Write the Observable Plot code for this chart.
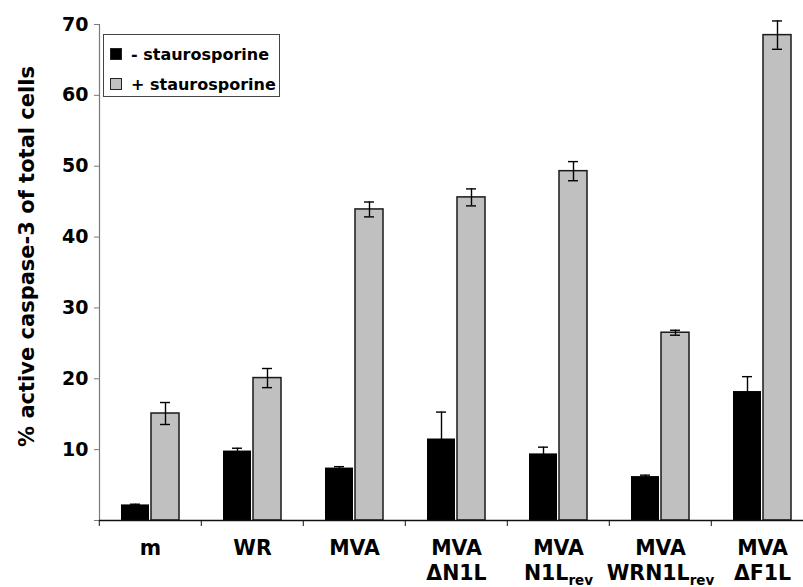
<!DOCTYPE html>
<html>
<head>
<meta charset="utf-8">
<script src="https://cdn.jsdelivr.net/npm/d3@7"></script>
<script src="https://cdn.jsdelivr.net/npm/@observablehq/plot@0.6"></script>
<style>
  html, body { margin: 0; padding: 0; background: #fff; overflow: hidden; }
  #wrap { position: relative; width: 803px; height: 587px; overflow: hidden; }
  #wrap svg { max-width: none !important; }
  #legend {
    position: absolute; left: 103px; top: 34px; width: 177px; height: 63px;
    box-sizing: border-box; border: 1px solid #444; background: #fff;
    padding-top: 4px; font-family: "DejaVu Sans", sans-serif; font-weight: bold; font-size: 16px;
  }
  #legend .row { display: flex; align-items: center; height: 30px; padding-left: 6px; }
  #legend .sw { width: 10px; height: 10px; border: 1px solid #222; margin-right: 9px; flex: none; }
</style>
</head>
<body>
<div id="wrap"><div id="legend"></div></div>
<script>
const categories = ["m", "WR", "MVA", "MVA\nΔN1L", "MVA\nN1L_rev", "MVA\nWRN1L_rev", "MVA\nΔF1L"];
const series = ["- staurosporine", "+ staurosporine"];
const seriesColors = ["#000000", "#c0c0c0"];
const minusValues = [2.2, 9.8, 7.4, 11.5, 9.4, 6.2, 18.2];
const minusErrors = [0.1, 0.4, 0.2, 3.8, 0.95, 0.2, 2.1];
const plusValues = [15.1, 20.1, 43.9, 45.6, 49.3, 26.5, 68.5];
const plusErrors = [1.55, 1.35, 1.05, 1.2, 1.35, 0.35, 2.0];
const yTicks = [0, 10, 20, 30, 40, 50, 60, 70];
const yLabel = "% active caspase-3 of total cells";

const rows = categories.flatMap((c, i) => [
  {cat: c, s: series[0], v: minusValues[i], e: minusErrors[i]},
  {cat: c, s: series[1], v: plusValues[i], e: plusErrors[i]}
]);

const W = 814, H = 587, ML = 97, MR = 0, MT = 24, MB = 67;
const step = (W - ML - MR) / categories.length;

const plot = Plot.plot({
  width: W, height: H,
  marginTop: MT, marginBottom: MB, marginLeft: ML, marginRight: MR,
  style: {fontFamily: "'DejaVu Sans', sans-serif", fontWeight: "bold", background: "#fff", color: "#000", maxWidth: "none"},
  fx: {domain: categories, padding: 0},
  x: {domain: series, paddingInner: 0.065, paddingOuter: 0.69, axis: null},
  y: {domain: [0, 70], range: [H - MB, MT]},
  marks: [
    Plot.frame({anchor: "left", stroke: "#7a7a7a", strokeWidth: 1.2, facet: "super"}),
    Plot.axisY({
      ticks: yTicks, tickFormat: d => d === 0 ? "" : d,
      tickSize: 5, tickPadding: 6, fontSize: 19, stroke: "#7a7a7a", fill: "#000",
      label: yLabel, labelAnchor: "center", labelOffset: 80, labelArrow: "none"
    }),
    Plot.barY(rows, {filter: d => d.s === series[0], fx: "cat", x: "s", y: "v", fill: seriesColors[0]}),
    Plot.barY(rows, {filter: d => d.s === series[1], fx: "cat", x: "s", y: "v", fill: seriesColors[1], stroke: "#1a1a1a", strokeWidth: 1.5}),
    Plot.ruleX(rows, {fx: "cat", x: "s", y1: d => d.v - d.e, y2: d => d.v + d.e, stroke: "#000", strokeWidth: 1.4}),
    Plot.tickY(rows, {fx: "cat", x: "s", y: d => d.v + d.e, stroke: "#000", strokeWidth: 1.4, insetLeft: 9, insetRight: 9}),
    Plot.tickY(rows, {fx: "cat", x: "s", y: d => d.v - d.e, stroke: "#000", strokeWidth: 1.4, insetLeft: 9, insetRight: 9}),
    Plot.ruleY([0], {stroke: "#111", strokeWidth: 1.3}),
    Plot.axisFx({anchor: "bottom", tickSize: 6, dx: -step / 2, tickFormat: () => "", label: null, stroke: "#111"}),
    Plot.axisFx({anchor: "bottom", tickSize: 0, tickPadding: 17, fontSize: 20.5, lineHeight: 1.2, label: null})
  ]
});
plot.style.maxWidth = "none";

// subscripts for "_rev"
plot.querySelectorAll("tspan").forEach(t => {
  const txt = t.textContent;
  if (txt.includes("_")) {
    const [a, b] = txt.split("_");
    t.textContent = a;
    const sub = document.createElementNS("http://www.w3.org/2000/svg", "tspan");
    sub.setAttribute("dy", "5");
    sub.setAttribute("font-size", "13.5");
    sub.textContent = b;
    t.parentNode.insertBefore(sub, t.nextSibling);
  }
});

// y-axis label: size and position along the axis
d3.select(plot).selectAll("g[aria-label='y-axis label'] text")
  .attr("font-size", 21)
  .attr("dx", 16);

const wrap = document.getElementById("wrap");
wrap.insertBefore(plot, wrap.firstChild);

const legend = document.getElementById("legend");
series.forEach((s, i) => {
  const row = document.createElement("div");
  row.className = "row";
  const sw = document.createElement("span");
  sw.className = "sw";
  sw.style.background = seriesColors[i];
  const lab = document.createElement("span");
  lab.textContent = s;
  row.appendChild(sw); row.appendChild(lab);
  legend.appendChild(row);
});
</script>
</body>
</html>
